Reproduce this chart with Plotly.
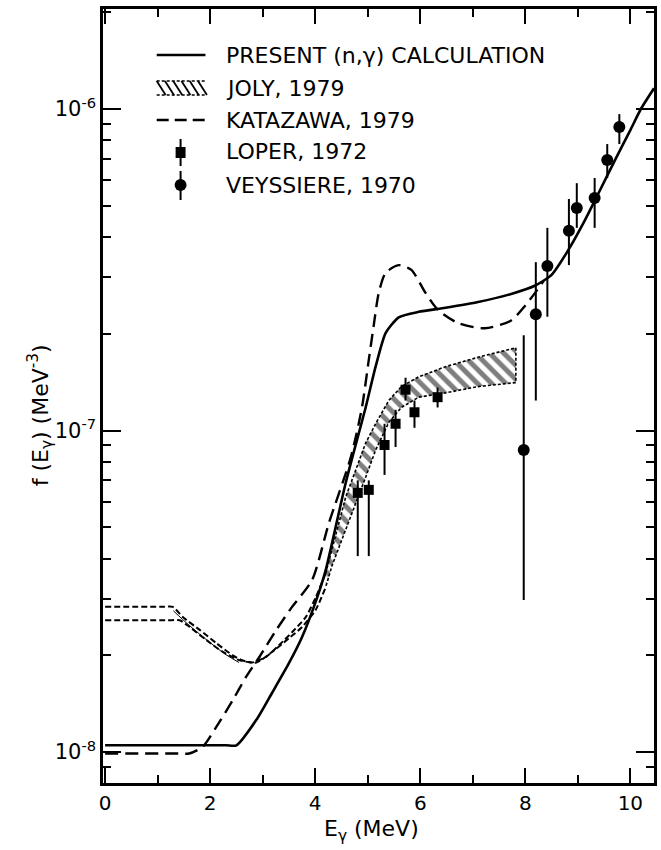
import plotly.graph_objects as go

# ---- data -------------------------------------------------------------
# present (n,gamma) calculation
calc_e = [0.0, 2.3, 2.5, 2.88, 3.18, 3.5, 3.75, 4.02, 4.2, 4.58, 4.96, 5.15,
          5.34, 5.59, 5.97, 6.48, 7.10, 7.73, 8.18, 8.5, 8.8, 9.1, 9.4, 9.7,
          10.0, 10.2, 10.45]
calc_f = [1.05e-8, 1.05e-8, 1.05e-8, 1.26e-8, 1.53e-8, 1.89e-8, 2.28e-8,
          2.97e-8, 3.68e-8, 6.87e-8, 1.18e-7, 1.58e-7, 2.01e-7, 2.25e-7,
          2.34e-7, 2.41e-7, 2.51e-7, 2.66e-7, 2.82e-7, 3.05e-7, 3.6e-7,
          4.4e-7, 5.5e-7, 6.9e-7, 8.6e-7, 1.0e-6, 1.16e-6]

# Katazawa, 1979
kat_e = [0.0, 1.4, 1.6, 1.86, 2.12, 2.43, 2.68, 2.94, 3.26, 3.56, 3.94, 4.26,
         4.68, 4.89, 5.02, 5.11, 5.21, 5.34, 5.59, 5.83, 6.10, 6.34, 6.72,
         7.23, 7.73, 8.0, 8.2, 8.35]
kat_f = [9.9e-9, 9.9e-9, 9.9e-9, 1.04e-8, 1.20e-8, 1.45e-8, 1.71e-8, 1.98e-8,
         2.40e-8, 2.83e-8, 3.43e-8, 5.15e-8, 8.28e-8, 1.18e-7, 1.66e-7,
         2.10e-7, 2.68e-7, 3.09e-7, 3.27e-7, 3.16e-7, 2.68e-7, 2.37e-7,
         2.16e-7, 2.08e-7, 2.2e-7, 2.45e-7, 2.7e-7, 2.92e-7]

# Joly, 1979 band (hatched part)
joly_e = [4.2, 4.32, 4.58, 4.77, 4.96, 5.15, 5.40, 5.64, 5.97, 6.48, 7.10, 7.82]
joly_hi = [3.6e-8, 4.3e-8, 6.21e-8, 7.53e-8, 9.14e-8, 1.05e-7, 1.24e-7,
           1.37e-7, 1.47e-7, 1.58e-7, 1.69e-7, 1.81e-7]
joly_lo = [3.26e-8, 3.8e-8, 4.90e-8, 5.94e-8, 7.16e-8, 8.69e-8, 1.06e-7,
           1.18e-7, 1.27e-7, 1.31e-7, 1.37e-7, 1.41e-7]

# Joly, 1979 band below 4.2 MeV (outline only)
jlow_hi_e = [0.0, 1.1, 1.29, 1.48, 1.80, 2.12, 2.43, 2.61, 2.80, 3.07, 3.31,
             3.56, 3.82, 4.01, 4.2]
jlow_hi_f = [2.83e-8, 2.83e-8, 2.83e-8, 2.63e-8, 2.40e-8, 2.18e-8, 2.00e-8,
             1.93e-8, 1.90e-8, 1.98e-8, 2.15e-8, 2.36e-8, 2.63e-8, 3.03e-8,
             3.6e-8]
jlow_lo_e = [0.0, 1.2, 1.42, 1.61, 1.93, 2.24, 2.56, 2.88, 3.18, 3.50, 3.75,
             4.01, 4.2]
jlow_lo_f = [2.57e-8, 2.57e-8, 2.57e-8, 2.45e-8, 2.23e-8, 2.05e-8, 1.93e-8,
             1.90e-8, 2.05e-8, 2.26e-8, 2.45e-8, 2.77e-8, 3.26e-8]
jlow_mid_e = [1.3, 1.6, 2.0, 2.3, 2.55]
jlow_mid_f = [2.75e-8, 2.48e-8, 2.19e-8, 2.01e-8, 1.90e-8]

# Loper, 1972
lop_e = [4.81, 5.02, 5.32, 5.53, 5.72, 5.89, 6.33]
lop_f = [6.40e-8, 6.54e-8, 9.02e-8, 1.05e-7, 1.34e-7, 1.14e-7, 1.27e-7]
lop_hi = [7.0e-8, 7.0e-8, 1.05e-7, 1.16e-7, 1.46e-7, 1.24e-7, 1.36e-7]
lop_lo = [4.07e-8, 4.07e-8, 7.28e-8, 8.89e-8, 1.24e-7, 1.02e-7, 1.18e-7]

# Veyssiere, 1970
vey_e = [7.97, 8.2, 8.42, 8.83, 8.98, 9.32, 9.56, 9.79]
vey_f = [8.7e-8, 2.30e-7, 3.25e-7, 4.18e-7, 4.92e-7, 5.29e-7, 6.94e-7, 8.79e-7]
vey_hi = [1.98e-7, 3.34e-7, 4.27e-7, 5.25e-7, 5.88e-7, 6.10e-7, 7.78e-7, 9.64e-7]
vey_lo = [2.97e-8, 1.24e-7, 2.26e-7, 3.27e-7, 4.27e-7, 4.27e-7, 6.10e-7, 7.78e-7]

x_ticks = [0, 2, 4, 6, 8, 10]
y_ticks = [1e-8, 1e-7, 1e-6]
y_tick_text = ["10<sup>-8</sup>", "10<sup>-7</sup>", "10<sup>-6</sup>"]

legend_labels = ["PRESENT (n,\u03b3) CALCULATION", "JOLY, 1979",
                 "KATAZAWA, 1979", "LOPER, 1972", "VEYSSIERE, 1970"]

# ---- figure -----------------------------------------------------------
W, H = 661, 850
ML, MR, MT, MB = 103, 4, 9, 67
FONT = "DejaVu Sans"
INK = "#000000"

fig = go.Figure()

# Joly band: hatched region
fig.add_trace(go.Scatter(
    x=joly_e + joly_e[::-1], y=joly_hi + joly_lo[::-1],
    mode="lines", fill="toself", fillcolor="rgba(0,0,0,0)",
    fillpattern=dict(shape="\\", fgcolor=INK, bgcolor="white", size=10,
                     solidity=0.5),
    line=dict(color=INK, width=1.6, dash="3px,2px"), hoverinfo="skip"))

# Joly band below 4.2 MeV
for xe, yf in [(jlow_hi_e, jlow_hi_f), (jlow_lo_e, jlow_lo_f)]:
    fig.add_trace(go.Scatter(x=xe, y=yf, mode="lines",
                             line=dict(color=INK, width=2, dash="6px,3px",
                                       shape="spline", smoothing=0.6)))
fig.add_trace(go.Scatter(x=jlow_mid_e, y=jlow_mid_f, mode="lines",
                         line=dict(color=INK, width=1, shape="spline")))

# Katazawa
fig.add_trace(go.Scatter(x=kat_e, y=kat_f, mode="lines",
                         line=dict(color=INK, width=2.4, dash="13px,7px",
                                   shape="spline", smoothing=0.7)))

# present calculation
fig.add_trace(go.Scatter(x=calc_e, y=calc_f, mode="lines",
                         line=dict(color=INK, width=2.6, shape="spline",
                                   smoothing=0.6)))

# Loper
fig.add_trace(go.Scatter(
    x=lop_e, y=lop_f, mode="markers",
    marker=dict(symbol="square", size=10, color=INK),
    error_y=dict(type="data", symmetric=False,
                 array=[h - v for h, v in zip(lop_hi, lop_f)],
                 arrayminus=[v - l for v, l in zip(lop_f, lop_lo)],
                 color=INK, thickness=2, width=0)))

# Veyssiere
fig.add_trace(go.Scatter(
    x=vey_e, y=vey_f, mode="markers",
    marker=dict(symbol="circle", size=12, color=INK),
    error_y=dict(type="data", symmetric=False,
                 array=[h - v for h, v in zip(vey_hi, vey_f)],
                 arrayminus=[v - l for v, l in zip(vey_f, vey_lo)],
                 color=INK, thickness=2, width=0)))

# ---- legend (drawn by hand in paper coordinates) ----------------------
pw, ph = W - ML - MR, H - MT - MB


def px(x):
    return (x - ML) / pw


def py(y):
    return 1 - (y - MT) / ph


def pline(x0, y0, x1, y1, width, dash="solid"):
    return dict(type="line", xref="paper", yref="paper",
                x0=px(x0), x1=px(x1), y0=py(y0), y1=py(y1),
                line=dict(color=INK, width=width, dash=dash))


row_y = [55, 88, 120, 152, 185]
shapes = []
annotations = []
for label, yy in zip(legend_labels, row_y):
    annotations.append(dict(x=px(225), y=py(yy), xref="paper", yref="paper",
                            text=label, showarrow=False, xanchor="left",
                            yanchor="middle",
                            font=dict(family=FONT, size=22, color=INK)))

# solid sample
shapes.append(pline(157, 55, 206, 55, 2.6))
# hatch sample
for k in range(6):
    x0 = 157 + k * 8.3
    shapes.append(pline(x0, 81, x0 + 9, 95, 1.8))
shapes.append(pline(157, 81, 207, 81, 1.4, "3px,2px"))
shapes.append(pline(157, 95, 207, 95, 1.4, "3px,2px"))
# dashed sample
shapes.append(pline(157, 120, 206, 120, 2.4, "12px,6px"))
# square with bar
shapes.append(pline(181, 139, 181, 166, 2))
shapes.append(dict(type="rect", xref="paper", yref="paper",
                   x0=px(176), x1=px(186), y0=py(147), y1=py(158),
                   fillcolor=INK, line=dict(width=0)))
# circle with bar
shapes.append(pline(181, 171, 181, 200, 2))
shapes.append(dict(type="circle", xref="paper", yref="paper",
                   x0=px(175), x1=px(187), y0=py(179), y1=py(191),
                   fillcolor=INK, line=dict(width=0)))

# axis titles
annotations.append(dict(x=px(373), y=py(830), xref="paper", yref="paper",
                        xanchor="center", yanchor="middle",
                        text="E<sub>\u03b3</sub> (MeV)", showarrow=False,
                        font=dict(family=FONT, size=22, color=INK)))
annotations.append(dict(x=px(40), y=py(415), xref="paper", yref="paper",
                        xanchor="center", yanchor="middle",
                        text="f (E<sub>\u03b3</sub>) (MeV<sup>-3</sup>)",
                        showarrow=False, textangle=-90,
                        font=dict(family=FONT, size=22, color=INK)))

minor_y = [m * 10.0 ** d for d in (-9, -8, -7, -6) for m in range(2, 10)]

axis_common = dict(showline=True, linecolor=INK, linewidth=2.5,
                   mirror="allticks", ticks="inside", tickcolor=INK,
                   tickwidth=2, showgrid=False, zeroline=False)

fig.update_layout(
    width=W, height=H, margin=dict(l=ML, r=MR, t=MT, b=MB),
    paper_bgcolor="white", plot_bgcolor="white", showlegend=False,
    font=dict(family=FONT, size=19, color=INK),
    shapes=shapes, annotations=annotations,
    xaxis=dict(range=[-0.04, 10.45], tickvals=x_ticks, ticklen=15,
               tickfont=dict(size=20), ticklabelstandoff=0,
               minor=dict(dtick=1, ticks="inside", ticklen=8, tickwidth=2,
                          tickcolor=INK),
               **axis_common),
    yaxis=dict(type="log", range=[-8.096, -5.689], tickvals=y_ticks,
               ticktext=y_tick_text, ticklen=18, tickfont=dict(size=21),
               minor=dict(tickvals=minor_y, ticks="inside", ticklen=8,
                          tickwidth=2, tickcolor=INK),
               **axis_common),
)

fig.write_html("out.html")
